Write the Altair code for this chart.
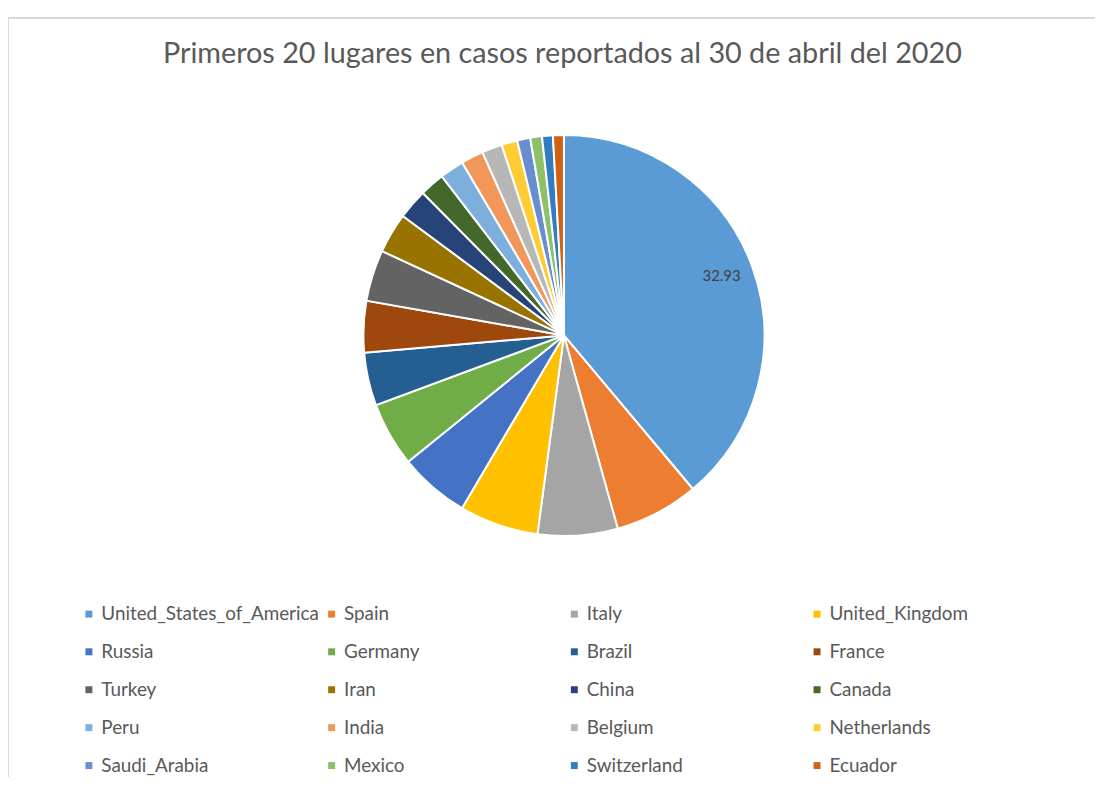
import altair as alt
import pandas as pd

countries = [
    "United_States_of_America", "Spain", "Italy", "United_Kingdom",
    "Russia", "Germany", "Brazil", "France",
    "Turkey", "Iran", "China", "Canada",
    "Peru", "India", "Belgium", "Netherlands",
    "Saudi_Arabia", "Mexico", "Switzerland", "Ecuador",
]
values = [32.93, 5.75, 5.45, 5.40, 4.80, 4.40, 3.62, 3.52, 3.50, 2.75,
          2.05, 1.70, 1.65, 1.53, 1.39, 1.08, 0.89, 0.80, 0.74, 0.74]
colors = [
    "#5B9BD5", "#ED7D31", "#A5A5A5", "#FFC000",
    "#4472C4", "#70AD47", "#255E91", "#9E480E",
    "#636363", "#997300", "#264478", "#43682B",
    "#7CAFDD", "#F1975A", "#B7B7B7", "#FFCD33",
    "#698ED0", "#8CC168", "#327DC2", "#D26012",
]
labels = ["32.93"] + [""] * 19

df = pd.DataFrame({"country": countries, "value": values,
                   "idx": list(range(len(countries))), "label": labels})

W, H = 1095, 764
CX, CY = 560, 320

base = alt.Chart(df).encode(
    theta=alt.Theta("value:Q", stack=True),
    order=alt.Order("idx:Q", sort="ascending"),
)

arcs = base.mark_arc(outerRadius=202, stroke="white", strokeWidth=2).encode(
    x=alt.value(CX), y=alt.value(CY),
    color=alt.Color(
        "country:N",
        scale=alt.Scale(domain=countries, range=colors),
        legend=alt.Legend(
            title=None, orient="none", legendX=72, legendY=591,
            columns=4, direction="horizontal", gridAlign="all",
            columnPadding=2.5, rowPadding=18.2, padding=0,
            symbolType="square", symbolSize=49, symbolStrokeWidth=0,
            labelFont="Lato", labelFontSize=19, labelColor="#595959",
            labelOffset=3, labelLimit=0,
        ),
    ),
)

text = base.mark_text(radius=169, dy=-2, font="Lato", fontSize=15, color="#404040").encode(
    x=alt.value(CX), y=alt.value(CY),
    text="label:N",
)

frame_top = alt.Chart(df).mark_rule(color="#D9D9D9", strokeWidth=1.5).encode(
    x=alt.value(0), x2=alt.value(W), y=alt.value(0)
)
frame_left = alt.Chart(df).mark_rule(color="#D9D9D9", strokeWidth=1.5).encode(
    x=alt.value(0), y=alt.value(0), y2=alt.value(H)
)

chart = alt.layer(frame_top, frame_left, arcs, text).properties(
    width=W, height=H,
    title=alt.Title(
        "Primeros 20 lugares en casos reportados al 30 de abril del 2020",
        font="Lato", fontSize=29, fontWeight="normal", color="#595959",
        anchor="middle", offset=-52, dx=11,
    ),
    autosize=alt.AutoSizeParams(type="none"),
    padding={"left": 0, "top": 7, "right": 0, "bottom": 0},
).configure(background="white").configure_view(stroke=None)

chart.save("out.html", embed_options={"renderer": "svg", "actions": False})
